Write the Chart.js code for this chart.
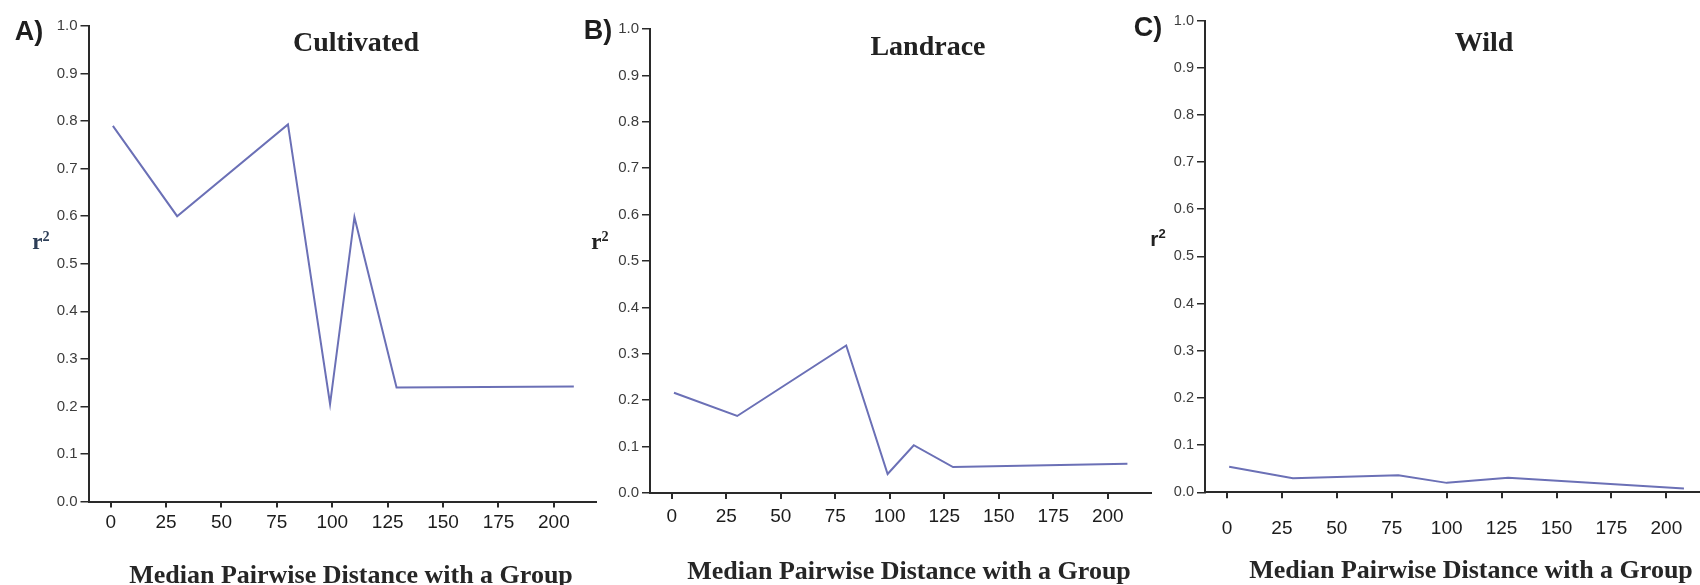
<!DOCTYPE html>
<html>
<head>
<meta charset="utf-8">
<script src="https://cdn.jsdelivr.net/npm/chart.js@4/dist/chart.umd.min.js"></script>
<style>
	html, body { margin: 0; padding: 0; background: #fff; overflow: hidden; }
	#page { position: relative; width: 1700px; height: 585px; overflow: hidden; }
	.panel { position: absolute; top: 0; width: 600px; height: 585px; }
	.txt { position: absolute; transform: translate(-50%, -50%); line-height: 1; white-space: nowrap; color: #222; }
	.serif { font-family: 'Liberation Serif', 'Times New Roman', serif; font-weight: bold; }
	.sans { font-family: 'Liberation Sans', Arial, sans-serif; font-weight: bold; }
	.letter { font-size: 27px; color: #1e1e1e; }
	.title { font-size: 28px; }
	.xtitle { font-size: 26px; color: #262626; }
	.r2 { font-size: 23px; }
	.r2 sup { font-size: 0.62em; vertical-align: 0.55em; }
</style>
</head>
<body>
<div id="page">
	<div class="panel" style="left:0px"><canvas id="chartA" width="600" height="585"></canvas></div>
	<div class="panel" style="left:560px"><canvas id="chartB" width="600" height="585"></canvas></div>
	<div class="panel" style="left:1120px"><canvas id="chartC" width="600" height="585"></canvas></div>

	<div class="txt sans letter" style="left:29px; top:31px">A)</div>
	<div class="txt sans letter" style="left:598px; top:30px">B)</div>
	<div class="txt sans letter" style="left:1148px; top:27px">C)</div>

	<div class="txt serif title" style="left:356px; top:42px">Cultivated</div>
	<div class="txt serif title" style="left:928px; top:46px">Landrace</div>
	<div class="txt serif title" style="left:1484px; top:42px">Wild</div>

	<div class="txt serif r2" style="left:41px; top:241px; color:#2d3e57">r<sup>2</sup></div>
	<div class="txt serif r2" style="left:600px; top:241px">r<sup>2</sup></div>
	<div class="txt sans r2" style="left:1158px; top:238px; font-size:21px">r<sup>2</sup></div>

	<div class="txt serif xtitle" style="left:351px; top:575px">Median Pairwise Distance with a Group</div>
	<div class="txt serif xtitle" style="left:909px; top:571px">Median Pairwise Distance with a Group</div>
	<div class="txt serif xtitle" style="left:1471px; top:570px">Median Pairwise Distance with a Group</div>
</div>

<script>
// 軸目盛
const distanceTicks = [0, 25, 50, 75, 100, 125, 150, 175, 200];
const r2Ticks = [0.0, 0.1, 0.2, 0.3, 0.4, 0.5, 0.6, 0.7, 0.8, 0.9, 1.0];

// 栽培種
const cultivatedDistance = [1, 30, 80, 99, 110, 129, 209];
const cultivatedR2 = [0.790, 0.600, 0.793, 0.205, 0.598, 0.240, 0.242];

// 在来種
const landraceDistance = [1, 30, 80, 99, 111, 129, 209];
const landraceR2 = [0.216, 0.166, 0.318, 0.041, 0.103, 0.056, 0.063];

// 野生種
const wildDistance = [1, 30, 78, 100, 128, 208];
const wildR2 = [0.054, 0.030, 0.036, 0.020, 0.031, 0.008];

const Y_BOX = 40;
const X_BOX = 50;
const AXIS_COLOR = '#2a2a2a';

/**
 * 1パネル分の折れ線を描画する
 * plot は canvas 内でのプロット領域
 */
function drawPanel(id, xs, ys, plot) {
	let points = xs.map((x, i) => ({ x: x, y: ys[i] }));
	let canvas = document.getElementById(id);

	let config = {
		type: 'line',
		data: {
			datasets: [{
				data: points,
				borderColor: '#6b70b6',
				borderWidth: 2,
				pointRadius: 0,
				tension: 0,
				fill: false
			}]
		},
		options: {
			responsive: false,
			animation: false,
			layout: {
				padding: {
					left: plot.left - Y_BOX,
					right: canvas.width - plot.right,
					top: plot.top,
					bottom: canvas.height - plot.bottom - X_BOX
				}
			},
			plugins: {
				legend: { display: false },
				tooltip: { enabled: false }
			},
			scales: {
				x: {
					type: 'linear',
					min: -10,
					max: plot.xMax,
					afterFit: s => { s.height = X_BOX; },
					afterBuildTicks: s => { s.ticks = distanceTicks.map(v => ({ value: v })); },
					border: { display: true, color: AXIS_COLOR, width: 2 },
					grid: { display: true, drawOnChartArea: false, drawTicks: true, tickLength: 6, color: AXIS_COLOR, lineWidth: 2 },
					ticks: {
						padding: plot.xPad,
						maxRotation: 0,
						autoSkip: false,
						color: '#1c1c1c',
						font: { family: "'Liberation Sans', Arial, sans-serif", size: 19 }
					}
				},
				y: {
					type: 'linear',
					min: 0,
					max: 1,
					afterFit: s => { s.width = Y_BOX; },
					afterBuildTicks: s => { s.ticks = r2Ticks.map(v => ({ value: v })); },
					border: { display: true, color: AXIS_COLOR, width: 2 },
					grid: { display: true, drawOnChartArea: false, drawTicks: true, tickLength: 8, color: AXIS_COLOR, lineWidth: 1.5 },
					ticks: {
						padding: 3,
						autoSkip: false,
						color: '#3c3c3c',
						font: { family: "'Liberation Sans', Arial, sans-serif", size: plot.yFont },
						callback: v => Number(v).toFixed(1)
					}
				}
			}
		}
	};
	return new Chart(canvas.getContext('2d'), config);
}

drawPanel('chartA', cultivatedDistance, cultivatedR2,
	{ left: 88.5, right: 596, top: 26, bottom: 501.5, xMax: 219, xPad: 4, yFont: 15 });
drawPanel('chartB', landraceDistance, landraceR2,
	{ left: 90, right: 591.4, top: 29, bottom: 493, xMax: 220, xPad: 6.5, yFont: 15 });
drawPanel('chartC', wildDistance, wildR2,
	{ left: 85, right: 590.3, top: 20.5, bottom: 492.3, xMax: 220, xPad: 19, yFont: 14.5 });
</script>
</body>
</html>
